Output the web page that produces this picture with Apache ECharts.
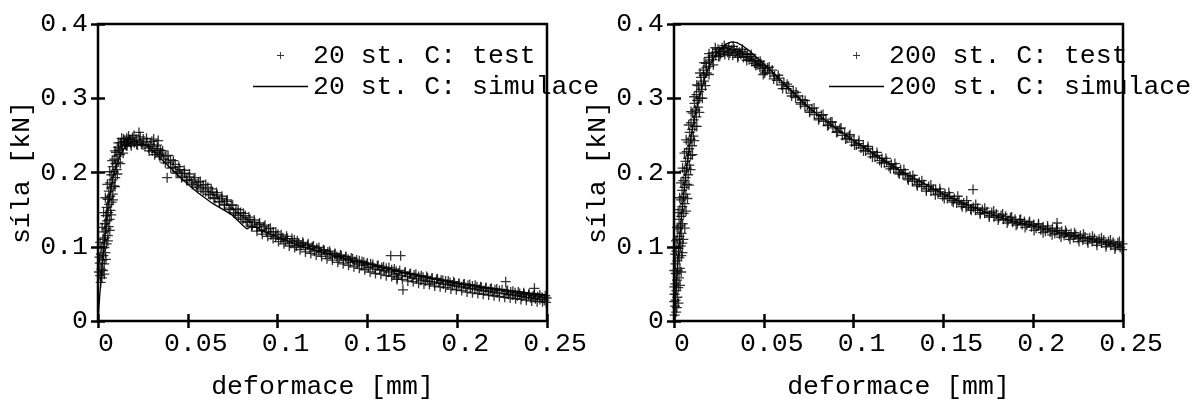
<!DOCTYPE html>
<html>
<head>
<meta charset="utf-8">
<title>síla - deformace</title>
<script src="https://cdn.jsdelivr.net/npm/echarts/dist/echarts.min.js"></script>
<style>
  html, body { margin: 0; padding: 0; background: #fff; }
  #chart { width: 1195px; height: 405px; }
</style>
</head>
<body>
<div id="chart"></div>
<script>
// hodnoty, [deformace mm, sila kN]
var xTicks = [0, 0.05, 0.1, 0.15, 0.2, 0.25];
var yTicks = [0, 0.1, 0.2, 0.3, 0.4];

var names20 = ['20 st. C: test', '20 st. C: simulace'];
var names200 = ['200 st. C: test', '200 st. C: simulace'];

// test 20 st. C - stred pasu bodu
var test20 = [
  [0.0015,0.052],[0.0012,0.061],[0.0022,0.058],[0.0018,0.07],[0.0028,0.068],[0.001,0.078],[0.0024,0.082],[0.0035,0.077],
  [0.0016,0.09],[0.003,0.088],[0.0042,0.092],[0.0021,0.1],[0.0036,0.099],[0.0048,0.104],[0.0027,0.11],[0.0041,0.112],
  [0.0055,0.115],[0.0033,0.12],[0.0047,0.124],[0.006,0.127],[0.0038,0.131],[0.0052,0.135],[0.0065,0.137],[0.0043,0.142],
  [0.0057,0.146],[0.007,0.149],[0.0048,0.153],[0.0062,0.157],[0.0076,0.16],[0.0054,0.164],[0.0068,0.168],[0.0082,0.171],
  [0.006,0.175],[0.0074,0.179],[0.0089,0.182],[0.0067,0.186],[0.0081,0.19],[0.0096,0.193],[0.0074,0.197],[0.0088,0.201],
  [0.0104,0.204],[0.0082,0.208],[0.0097,0.212],[0.0113,0.214],[0.009,0.218],[0.0106,0.222],[0.0123,0.224],[0.01,0.227],
  [0.0117,0.23],[0.0135,0.232],[0.0112,0.234],[0.013,0.237],[0.015,0.238],[0.0125,0.24],[0.0145,0.242],[0.0165,0.241],
  [0.0142,0.245],[0.016,0.246],[0.018,0.244],
  [0.0152,0.241],[0.0162,0.236],[0.0172,0.244],[0.0182,0.239],[0.0192,0.247],[0.0202,0.24],[0.0212,0.245],[0.022,0.237],
  [0.0228,0.254],[0.0232,0.243],[0.0242,0.238],[0.0252,0.245],[0.0262,0.236],[0.0272,0.241],[0.0282,0.233],[0.0292,0.238],
  [0.0302,0.229],[0.031,0.245],[0.0312,0.235],[0.0322,0.227],[0.0332,0.232],[0.0335,0.243],[0.0342,0.224],[0.0347,0.23],
  [0.0352,0.226],[0.0365,0.218],[0.0378,0.222],[0.0385,0.193],[0.0391,0.214],[0.0404,0.217],[0.0417,0.207],[0.043,0.211],
  [0.0443,0.201],[0.0456,0.204],[0.0469,0.195],[0.0482,0.199],[0.0495,0.19],[0.0508,0.194],[0.0521,0.186],[0.0534,0.19],
  [0.0547,0.182],[0.056,0.187],[0.0573,0.178],[0.0586,0.183],[0.0599,0.174],[0.0612,0.18],[0.0625,0.17],[0.0638,0.174],
  [0.0651,0.165],[0.0664,0.17],[0.0677,0.16],[0.069,0.165],[0.0703,0.157],[0.0716,0.161],[0.0729,0.152],[0.0742,0.156],
  [0.0755,0.146],[0.0768,0.151],[0.0781,0.142],[0.0794,0.146],[0.0807,0.137],[0.082,0.142],[0.0833,0.133],[0.0846,0.137],
  [0.0859,0.129],[0.0872,0.133],[0.0885,0.126],[0.0898,0.13],[0.0911,0.122],[0.0924,0.127],[0.0937,0.12],[0.095,0.124],
  [0.0963,0.116],[0.0976,0.12],[0.0989,0.113],[0.1002,0.117],
  [0.1018,0.11],[0.103,0.112],[0.1043,0.108],[0.1055,0.111],[0.1068,0.105],[0.108,0.107],[0.1093,0.109],[0.1105,0.101],
  [0.1118,0.105],[0.113,0.102],[0.1143,0.104],[0.1155,0.099],[0.1168,0.102],[0.118,0.097],[0.1193,0.1],[0.1205,0.094],
  [0.1218,0.098],[0.123,0.095],[0.1243,0.092],[0.1255,0.096],[0.1268,0.09],[0.128,0.093],[0.1293,0.091],[0.1305,0.086],
  [0.1318,0.09],[0.133,0.087],[0.1343,0.085],[0.1355,0.088],[0.1368,0.082],[0.138,0.086],[0.1393,0.083],[0.1405,0.079],
  [0.1418,0.084],[0.143,0.08],[0.1443,0.077],[0.1455,0.081],[0.1468,0.075],[0.148,0.079],[0.1493,0.076],[0.1505,0.072],
  [0.1518,0.077],[0.153,0.073],[0.1543,0.07],[0.1555,0.074],[0.1568,0.069],[0.158,0.072],[0.1593,0.068],[0.1605,0.071],
  [0.1618,0.066],[0.163,0.088],[0.1635,0.069],[0.1648,0.063],[0.166,0.067],[0.1665,0.056],[0.1673,0.064],[0.1685,0.088],
  [0.169,0.061],[0.1698,0.042],[0.171,0.065],[0.1723,0.06],[0.1735,0.063],[0.1748,0.058],[0.176,0.062],[0.1773,0.057],
  [0.1785,0.06],[0.1798,0.055],[0.181,0.059],[0.1823,0.054],[0.1835,0.058],[0.1848,0.053],[0.186,0.057],[0.1873,0.051],
  [0.1885,0.056],[0.1898,0.052],[0.191,0.055],[0.1923,0.05],[0.1935,0.054],[0.1948,0.049],[0.196,0.052],[0.1973,0.048],
  [0.1985,0.051],[0.1998,0.047],[0.201,0.05],[0.2023,0.046],[0.2035,0.049],[0.2048,0.045],[0.206,0.048],[0.2073,0.044],
  [0.2085,0.047],[0.2098,0.043],[0.211,0.046],[0.2123,0.042],[0.2135,0.045],[0.2148,0.041],[0.216,0.044],[0.2173,0.04],
  [0.2185,0.043],[0.2198,0.039],[0.221,0.042],[0.2223,0.038],[0.2235,0.041],[0.227,0.053],[0.226,0.037],[0.2273,0.04],
  [0.2285,0.036],[0.2298,0.039],[0.231,0.035],[0.2323,0.038],[0.2335,0.034],[0.2348,0.037],[0.236,0.033],[0.2373,0.036],
  [0.2385,0.032],[0.2398,0.035],[0.241,0.031],[0.2423,0.034],[0.243,0.044],[0.2435,0.03],[0.2448,0.033],[0.246,0.029],
  [0.2473,0.032],[0.2485,0.028],[0.2498,0.031]
];

// test 20 st. C - okraje pasu bodu
var test20b = [
  [0.0005,0.066],[0.0035,0.063],[0.0008,0.086],[0.0044,0.083],[0.0012,0.106],[0.0055,0.108],[0.0023,0.126],[0.0066,0.122],
  [0.0031,0.146],[0.0074,0.143],[0.0041,0.166],[0.0084,0.163],[0.0052,0.184],[0.0095,0.181],[0.0065,0.201],[0.0108,0.198],
  [0.0079,0.216],[0.0124,0.212],[0.0094,0.229],[0.014,0.226],[0.0113,0.24],[0.0158,0.236],[0.0132,0.246],
  [0.017,0.249],[0.0185,0.236],[0.02,0.25],[0.0215,0.238],[0.0235,0.248],[0.025,0.237],[0.027,0.246],[0.0285,0.229],
  [0.03,0.242],[0.0315,0.224],[0.033,0.237],[0.0345,0.221],[0.036,0.229],[0.0375,0.213],[0.039,0.223],[0.0405,0.206],
  [0.042,0.216],[0.0435,0.199],[0.045,0.208],[0.0465,0.193],[0.048,0.203],[0.0495,0.189],[0.051,0.198],[0.0525,0.184],
  [0.054,0.193],[0.0555,0.18],[0.057,0.188],[0.0585,0.175],[0.06,0.184],[0.0615,0.171],[0.063,0.178],[0.0645,0.166],
  [0.066,0.173],[0.0675,0.161],[0.069,0.168],[0.0705,0.156],[0.072,0.163],[0.0735,0.15],[0.075,0.156],[0.0765,0.144],
  [0.078,0.15],[0.0795,0.139],[0.081,0.145],[0.0825,0.134],[0.084,0.14],[0.0855,0.127],[0.087,0.136],[0.0885,0.121],
  [0.09,0.132],[0.0915,0.117],[0.093,0.129],[0.0945,0.114],[0.096,0.125],[0.0975,0.111],[0.099,0.12],[0.1005,0.107],
  [0.102,0.116],[0.1035,0.104],[0.105,0.114],[0.1065,0.101],[0.108,0.111],[0.1095,0.099],[0.111,0.108],[0.1125,0.096],
  [0.114,0.106],[0.1155,0.093],[0.117,0.104],[0.1185,0.091],[0.12,0.101],[0.1215,0.089],[0.123,0.099],[0.1245,0.087],
  [0.126,0.095],[0.1275,0.084],[0.129,0.094],[0.1305,0.082],[0.132,0.091],[0.1335,0.079],[0.135,0.089],[0.1365,0.077],
  [0.138,0.087],[0.1395,0.075],[0.141,0.085],[0.1425,0.073],[0.144,0.082],[0.1455,0.071],[0.147,0.08],[0.1485,0.069],
  [0.15,0.078],[0.1515,0.066],[0.153,0.076],[0.1545,0.064],[0.156,0.075],[0.1575,0.063],[0.159,0.073],[0.1605,0.061],
  [0.162,0.072],[0.1635,0.06],[0.165,0.07],[0.1665,0.058],[0.168,0.068],[0.1695,0.056],[0.171,0.066],[0.1725,0.054],
  [0.174,0.064],[0.1755,0.053],[0.177,0.063],[0.1785,0.051],[0.18,0.061],[0.1815,0.05],[0.183,0.06],[0.1845,0.049],
  [0.186,0.058],[0.1875,0.047],[0.189,0.057],[0.1905,0.046],[0.192,0.055],[0.1935,0.045],[0.195,0.054],[0.1965,0.043],
  [0.198,0.053],[0.1995,0.042],[0.201,0.051],[0.2025,0.041],[0.204,0.05],[0.2055,0.039],[0.207,0.049],[0.2085,0.038],
  [0.21,0.048],[0.2115,0.037],[0.213,0.046],[0.2145,0.036],[0.216,0.045],[0.2175,0.035],[0.219,0.044],[0.2205,0.034],
  [0.222,0.043],[0.2235,0.033],[0.225,0.042],[0.2265,0.032],[0.228,0.041],[0.2295,0.031],[0.231,0.04],[0.2325,0.03],
  [0.234,0.039],[0.2355,0.029],[0.237,0.038],[0.2385,0.028],[0.24,0.037],[0.2415,0.027],[0.243,0.036],[0.2445,0.026],
  [0.246,0.035],[0.2475,0.026],[0.249,0.034],[0.2495,0.025]
];

var sim20 = [
  [0,0],[0.001,0.035],[0.002,0.065],[0.003,0.095],[0.004,0.12],[0.005,0.145],[0.0065,0.17],[0.008,0.19],[0.01,0.207],
  [0.012,0.221],[0.014,0.231],[0.017,0.239],[0.02,0.242],[0.023,0.241],[0.027,0.236],[0.032,0.226],[0.036,0.216],
  [0.041,0.205],[0.046,0.193],[0.051,0.182],[0.056,0.172],[0.06,0.165],[0.064,0.158],[0.069,0.151],[0.074,0.144],
  [0.078,0.135],[0.081,0.128],[0.083,0.124],[0.085,0.127],[0.088,0.126],[0.092,0.121],[0.097,0.116],[0.101,0.112],
  [0.11,0.103],[0.12,0.096],[0.13,0.089],[0.14,0.082],[0.15,0.077],[0.16,0.071],[0.17,0.065],[0.18,0.06],[0.19,0.055],
  [0.2,0.051],[0.21,0.047],[0.22,0.044],[0.23,0.041],[0.24,0.038],[0.25,0.035]
];

// test 200 st. C - stred pasu bodu
var test200 = [
  [0.0004,0.008],[0.0012,0.012],[0.0006,0.02],[0.0016,0.018],[0.0009,0.028],[0.0019,0.032],[0.0003,0.036],[0.0013,0.041],
  [0.0024,0.045],[0.0007,0.05],[0.0017,0.055],[0.0028,0.058],[0.001,0.064],[0.0021,0.068],[0.0033,0.071],[0.0008,0.077],
  [0.0019,0.081],[0.003,0.085],[0.0041,0.088],[0.0013,0.094],[0.0025,0.098],[0.0037,0.101],[0.0046,0.105],[0.0018,0.11],
  [0.003,0.114],[0.0042,0.118],[0.0023,0.124],[0.0035,0.128],[0.0048,0.131],[0.0028,0.137],[0.004,0.141],[0.0054,0.145],
  [0.0033,0.15],[0.0046,0.154],[0.006,0.158],[0.0039,0.163],[0.0052,0.167],[0.0066,0.171],[0.0045,0.176],[0.0058,0.18],
  [0.0072,0.184],[0.0051,0.189],[0.0064,0.193],[0.0079,0.197],[0.0058,0.202],[0.0071,0.206],[0.0086,0.21],[0.0064,0.215],
  [0.0078,0.219],[0.0093,0.223],[0.0071,0.228],[0.0085,0.232],[0.01,0.236],[0.0079,0.241],[0.0093,0.245],[0.0108,0.249],
  [0.0087,0.254],[0.0101,0.258],[0.0116,0.262],[0.0095,0.267],[0.011,0.271],[0.0125,0.275],[0.0104,0.28],[0.0119,0.284],
  [0.0134,0.288],[0.0114,0.293],[0.0129,0.297],[0.0144,0.3],[0.0125,0.305],[0.014,0.309],[0.0156,0.312],[0.0136,0.317],
  [0.0152,0.32],[0.0168,0.323],[0.015,0.328],[0.0166,0.331],[0.0182,0.334],[0.0163,0.338],[0.018,0.341],[0.0197,0.343],
  [0.0178,0.347],[0.0196,0.35],[0.0213,0.352],[0.0195,0.355],[0.0214,0.357],[0.0232,0.358],[0.0215,0.361],[0.0235,0.362],
  [0.0253,0.363],
  [0.0245,0.366],[0.026,0.36],[0.0268,0.368],[0.0275,0.363],[0.0283,0.359],[0.029,0.367],[0.0298,0.362],[0.0305,0.369],
  [0.0312,0.361],[0.032,0.365],[0.0327,0.358],[0.0335,0.366],[0.0342,0.361],[0.035,0.364],[0.0357,0.357],[0.0365,0.362],
  [0.0372,0.359],[0.038,0.363],[0.0387,0.355],[0.0395,0.36],[0.0402,0.356],[0.041,0.359],[0.0418,0.352],[0.0425,0.356],
  [0.0433,0.35],[0.044,0.354],[0.0448,0.347],[0.0455,0.351],[0.0463,0.345],[0.047,0.349],[0.0478,0.342],[0.0485,0.346],
  [0.0493,0.34],[0.0497,0.332],[0.05,0.344],
  [0.0508,0.337],[0.0521,0.341],[0.0534,0.334],[0.0547,0.338],[0.056,0.33],[0.0573,0.324],[0.0586,0.327],[0.0599,0.318],
  [0.0612,0.321],[0.0625,0.313],[0.0638,0.316],[0.0651,0.307],[0.0664,0.31],[0.0677,0.301],[0.069,0.303],[0.0703,0.294],
  [0.0716,0.298],[0.0729,0.289],[0.0742,0.291],[0.0755,0.283],[0.0768,0.286],[0.0781,0.278],[0.0794,0.281],[0.0807,0.273],
  [0.082,0.277],[0.0833,0.269],[0.0846,0.272],[0.0859,0.264],[0.0872,0.268],[0.0885,0.26],[0.0898,0.262],[0.0911,0.255],
  [0.0924,0.259],[0.0937,0.25],[0.095,0.253],[0.0963,0.246],[0.0976,0.249],[0.0989,0.241],[0.1002,0.244],[0.1015,0.237],
  [0.1028,0.239],[0.1041,0.233],[0.1054,0.236],[0.1067,0.229],[0.108,0.232],[0.1093,0.225],[0.1106,0.228],[0.1119,0.221],
  [0.1132,0.223],[0.1145,0.216],[0.1158,0.219],[0.1171,0.213],[0.1184,0.215],[0.1197,0.208],[0.121,0.211],[0.1223,0.205],
  [0.1236,0.207],[0.1249,0.2],[0.1262,0.204],[0.1275,0.197],[0.1288,0.199],[0.1301,0.192],[0.1314,0.195],[0.1327,0.188],
  [0.134,0.191],[0.1353,0.184],[0.1366,0.187],[0.1379,0.181],[0.1392,0.184],[0.1405,0.178],[0.1418,0.181],[0.1431,0.175],
  [0.1444,0.177],[0.1457,0.177],[0.147,0.171],[0.1483,0.174],[0.1496,0.168],[0.1509,0.171],[0.1522,0.165],[0.1535,0.168],
  [0.1548,0.162],[0.1561,0.165],[0.1574,0.159],[0.1587,0.162],[0.16,0.157],[0.1613,0.159],[0.1626,0.153],[0.1639,0.156],
  [0.1652,0.151],[0.1665,0.177],[0.1667,0.153],[0.1678,0.149],[0.1691,0.152],[0.1704,0.146],[0.1717,0.15],[0.173,0.145],
  [0.1743,0.147],[0.1756,0.142],[0.1769,0.146],[0.1782,0.14],[0.1795,0.144],[0.1808,0.139],[0.1821,0.142],[0.1834,0.137],
  [0.1847,0.141],[0.186,0.135],[0.1873,0.139],[0.1886,0.133],[0.1899,0.137],[0.1912,0.131],[0.1925,0.136],[0.1938,0.13],
  [0.1951,0.134],[0.1964,0.129],[0.1977,0.132],[0.199,0.127],[0.2003,0.13],[0.2016,0.125],[0.2029,0.129],[0.2042,0.123],
  [0.2055,0.127],[0.2068,0.121],[0.2081,0.125],[0.2094,0.12],[0.2107,0.124],[0.212,0.118],[0.2133,0.132],[0.2135,0.122],
  [0.2146,0.117],[0.2159,0.121],[0.2172,0.115],[0.2185,0.119],[0.2198,0.114],[0.2211,0.118],[0.2224,0.112],[0.2237,0.116],
  [0.225,0.111],[0.2263,0.115],[0.2276,0.109],[0.2289,0.113],[0.2302,0.108],[0.2315,0.112],[0.2328,0.107],[0.2341,0.111],
  [0.2354,0.106],[0.2367,0.11],[0.238,0.105],[0.2393,0.109],[0.2406,0.103],[0.2419,0.107],[0.2432,0.102],[0.2445,0.106],
  [0.2458,0.1],[0.2471,0.105],[0.2484,0.099],[0.2497,0.104]
];

// test 200 st. C - okraje pasu bodu
var test200b = [
  [0.0001,0.026],[0.0025,0.024],[0.0002,0.046],[0.0034,0.048],[0.0002,0.068],[0.004,0.066],[0.0006,0.09],[0.0047,0.092],
  [0.0011,0.108],[0.0052,0.11],[0.0017,0.126],[0.006,0.125],[0.0023,0.146],[0.0067,0.148],[0.0031,0.166],[0.0075,0.165],
  [0.0039,0.186],[0.0083,0.183],[0.0048,0.206],[0.0092,0.204],[0.0058,0.226],[0.0103,0.224],[0.0068,0.244],[0.0113,0.243],
  [0.0082,0.264],[0.0127,0.262],[0.0095,0.282],[0.0141,0.281],[0.0112,0.302],[0.0158,0.3],[0.0127,0.318],[0.0175,0.317],
  [0.0145,0.334],[0.0195,0.332],[0.0168,0.348],[0.0219,0.345],[0.0195,0.36],[0.0248,0.356],
  [0.023,0.368],[0.0255,0.357],[0.028,0.371],[0.0305,0.358],[0.033,0.37],[0.0355,0.355],[0.038,0.366],[0.0405,0.351],
  [0.043,0.359],[0.0455,0.344],[0.048,0.35],[0.0505,0.334],[0.053,0.342],[0.0555,0.326],[0.058,0.331],[0.0605,0.313],
  [0.063,0.319],[0.0655,0.303],[0.068,0.308],[0.0705,0.292],[0.073,0.297],[0.0755,0.281],[0.078,0.287],[0.0805,0.271],
  [0.083,0.278],[0.0855,0.263],[0.088,0.268],[0.0905,0.254],[0.093,0.26],[0.0955,0.245],[0.098,0.251],[0.1005,0.237],
  [0.103,0.243],[0.1055,0.229],[0.108,0.235],[0.1105,0.221],[0.113,0.227],[0.1155,0.213],[0.118,0.219],[0.1205,0.205],
  [0.123,0.212],[0.1255,0.198],[0.128,0.204],[0.1305,0.19],[0.133,0.196],[0.1355,0.182],[0.138,0.189],[0.1405,0.175],
  [0.143,0.183],[0.1455,0.17],[0.148,0.178],[0.1505,0.165],[0.153,0.173],[0.1555,0.16],[0.158,0.168],[0.1605,0.154],
  [0.163,0.162],[0.1655,0.149],[0.168,0.157],[0.1705,0.144],[0.173,0.152],[0.1755,0.14],[0.178,0.148],[0.1805,0.136],
  [0.183,0.144],[0.1855,0.132],[0.188,0.14],[0.1905,0.129],[0.193,0.137],[0.1955,0.126],[0.198,0.134],[0.2005,0.122],
  [0.203,0.131],[0.2055,0.119],[0.208,0.128],[0.2105,0.116],[0.213,0.125],[0.2155,0.113],[0.218,0.122],[0.2205,0.11],
  [0.223,0.119],[0.2255,0.107],[0.228,0.117],[0.2305,0.105],[0.233,0.114],[0.2355,0.102],[0.238,0.112],[0.2405,0.1],
  [0.243,0.109],[0.2455,0.097],[0.248,0.107],[0.2495,0.096]
];

var sim200 = [
  [0,0.005],[0.001,0.04],[0.002,0.075],[0.003,0.105],[0.004,0.135],[0.005,0.16],[0.006,0.185],[0.007,0.205],[0.008,0.225],
  [0.01,0.255],[0.012,0.28],[0.014,0.3],[0.016,0.318],[0.018,0.333],[0.02,0.345],[0.023,0.358],[0.026,0.367],[0.029,0.373],
  [0.032,0.376],[0.035,0.375],[0.038,0.371],[0.042,0.364],[0.046,0.355],[0.05,0.346],[0.055,0.335],[0.06,0.323],
  [0.065,0.311],[0.07,0.299],[0.075,0.288],[0.08,0.278],[0.09,0.26],[0.1,0.243],[0.11,0.227],[0.12,0.212],[0.13,0.197],
  [0.14,0.184],[0.15,0.171],[0.16,0.16],[0.17,0.15],[0.18,0.141],[0.19,0.134],[0.2,0.128],[0.21,0.122],[0.22,0.116],
  [0.23,0.111],[0.24,0.106],[0.25,0.101]
];

var font = 'Liberation Mono, Courier New, monospace';
var fs = 26.5;
var plus = 'path://M4.35 0H5.65V4.35H10V5.65H5.65V10H4.35V5.65H0V4.35H4.35Z';
var dash = 'path://M0 0H55V1.3H0Z';

var myChart = echarts.init(document.getElementById('chart'));

function xAx(grid, pos) {
  var main = pos === 'bottom';
  return {
    gridIndex: grid, type: 'value', position: pos,
    min: xTicks[0], max: xTicks[xTicks.length - 1], interval: 0.05,
    name: main ? 'deformace [mm]' : '', nameLocation: 'middle', nameGap: 52,
    nameTextStyle: { fontFamily: font, fontSize: fs, color: '#000' },
    axisLine: { show: false },
    axisTick: { show: true, inside: true, length: 7, lineStyle: { color: '#000', width: 2.5 } },
    axisLabel: { show: main, fontFamily: font, fontSize: fs, color: '#000', margin: 9, padding: [0, 0, 0, 16] },
    splitLine: { show: false }
  };
}
function yAx(grid, pos) {
  var main = pos === 'left';
  return {
    gridIndex: grid, type: 'value', position: pos,
    min: yTicks[0], max: yTicks[yTicks.length - 1], interval: 0.1,
    name: main ? 'síla [kN]' : '', nameLocation: 'middle', nameGap: 63,
    nameTextStyle: { fontFamily: font, fontSize: fs, color: '#000' },
    axisLine: { show: false },
    axisTick: { show: true, inside: true, length: 7, lineStyle: { color: '#000', width: 2.5 } },
    axisLabel: { show: main, fontFamily: font, fontSize: fs, color: '#000', margin: 10 },
    splitLine: { show: false }
  };
}
function legendAt(left, names) {
  return {
    orient: 'vertical', left: left, top: 42, padding: 0,
    itemWidth: 55, itemHeight: 7, itemGap: 4,
    selectedMode: false,
    data: [{ name: names[0], icon: plus }, { name: names[1], icon: dash }],
    textStyle: { fontFamily: font, fontSize: fs, lineHeight: 26, color: '#000' }
  };
}

var option = {
  animation: false,
  backgroundColor: '#fff',
  grid: [
    { left: 98, top: 24, width: 449, height: 306, show: true, borderColor: '#000', borderWidth: 2.5, backgroundColor: 'transparent' },
    { left: 674, top: 24, width: 449, height: 306, show: true, borderColor: '#000', borderWidth: 2.5, backgroundColor: 'transparent' }
  ],
  xAxis: [xAx(0, 'bottom'), xAx(0, 'top'), xAx(1, 'bottom'), xAx(1, 'top')],
  yAxis: [yAx(0, 'left'), yAx(0, 'right'), yAx(1, 'left'), yAx(1, 'right')],
  legend: [legendAt(253, names20), legendAt(829, names200)],
  series: [
    {
      name: names20[0], type: 'scatter', xAxisIndex: 0, yAxisIndex: 0,
      symbol: plus, symbolSize: 10, itemStyle: { color: '#000' }, data: test20.concat(test20b)
    },
    {
      name: names20[1], type: 'line', xAxisIndex: 0, yAxisIndex: 0,
      symbol: 'none', lineStyle: { color: '#000', width: 1.3 }, itemStyle: { color: '#000' }, data: sim20
    },
    {
      name: names200[0], type: 'scatter', xAxisIndex: 2, yAxisIndex: 2,
      symbol: plus, symbolSize: 10, itemStyle: { color: '#000' }, data: test200.concat(test200b)
    },
    {
      name: names200[1], type: 'line', xAxisIndex: 2, yAxisIndex: 2,
      symbol: 'none', lineStyle: { color: '#000', width: 1.3 }, itemStyle: { color: '#000' }, data: sim200
    }
  ]
};

myChart.setOption(option);
</script>
</body>
</html>
